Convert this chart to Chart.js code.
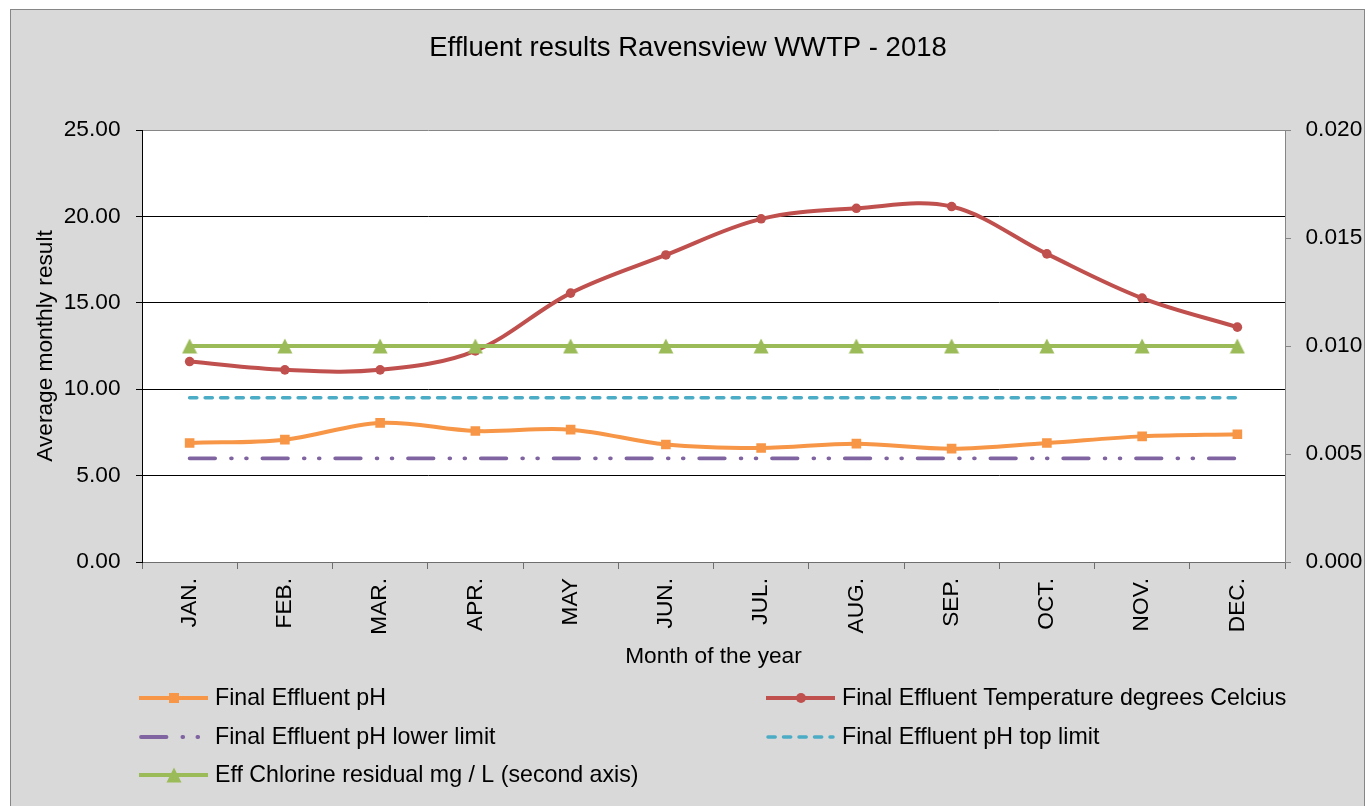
<!DOCTYPE html>
<html><head><meta charset="utf-8">
<script src="https://cdn.jsdelivr.net/npm/chart.js@4/dist/chart.umd.min.js"></script>
<style>html,body{margin:0;padding:0;background:#fff;overflow:hidden}#wrap{width:1368px;height:806px}</style>
</head><body><div id="wrap"><canvas id="c" width="1368" height="806"></canvas></div>
<script>
// ---- data ----
const months = ['JAN.', 'FEB.', 'MAR.', 'APR.', 'MAY', 'JUN.', 'JUL.', 'AUG.', 'SEP.', 'OCT.', 'NOV.', 'DEC.'];
const phValues = [6.89, 7.08, 8.05, 7.58, 7.66, 6.80, 6.60, 6.85, 6.56, 6.89, 7.27, 7.39];
const temperatureValues = [11.60, 11.12, 11.12, 12.22, 15.56, 17.77, 19.86, 20.47, 20.57, 17.83, 15.27, 13.59];
const phLowerLimit = [6, 6, 6, 6, 6, 6, 6, 6, 6, 6, 6, 6];
const phTopLimit = [9.5, 9.5, 9.5, 9.5, 9.5, 9.5, 9.5, 9.5, 9.5, 9.5, 9.5, 9.5];
const chlorineResidual = [0.01, 0.01, 0.01, 0.01, 0.01, 0.01, 0.01, 0.01, 0.01, 0.01, 0.01, 0.01];
const leftAxisTicks = [0, 5, 10, 15, 20, 25];
const rightAxisTicks = [0, 0.005, 0.010, 0.015, 0.020];

const FONT = "'Liberation Sans', Arial, sans-serif";
const TXT = 22.7;
const LEG = 23.2;

function triangleMarker(color) {
  const c = document.createElement('canvas');
  c.width = 16; c.height = 16;
  const g = c.getContext('2d');
  g.fillStyle = color;
  g.beginPath(); g.moveTo(8, 0.5); g.lineTo(15.5, 15.5); g.lineTo(0.5, 15.5); g.closePath(); g.fill();
  return c;
}
const triImg = triangleMarker('#9BBB59');

const legendSlots = [{x:139,y:698},{x:766,y:698},{x:139,y:737},{x:766,y:737},{x:139,y:775}];

const bgPlugin = {
  id: 'bg',
  beforeDraw(chart) {
    const ctx = chart.ctx, a = chart.chartArea;
    ctx.save();
    ctx.fillStyle = '#ffffff';
    ctx.fillRect(0, 0, chart.width, chart.height);
    ctx.fillStyle = '#D9D9D9';
    ctx.fillRect(10, 9, 1355, 800);
    ctx.strokeStyle = '#868686';
    ctx.lineWidth = 1;
    ctx.strokeRect(10.5, 9.5, 1354, 810);
    ctx.fillStyle = '#ffffff';
    ctx.fillRect(a.left, a.top, a.right - a.left, a.bottom - a.top);
    ctx.restore();
  },
  afterDraw(chart) {
    const ctx = chart.ctx;
    ctx.save();
    chart.data.datasets.forEach((ds, i) => {
      const s = legendSlots[i];
      ctx.strokeStyle = ds.borderColor;
      ctx.lineWidth = ds.borderWidth;
      if (ds.borderDash) {
        ctx.setLineDash(ds.borderDash);
        ctx.lineCap = 'round';
        ctx.beginPath(); ctx.moveTo(s.x + 2, s.y); ctx.lineTo(s.x + 67, s.y); ctx.stroke();
      } else {
        ctx.setLineDash([]);
        ctx.lineCap = 'butt';
        ctx.beginPath(); ctx.moveTo(s.x, s.y); ctx.lineTo(s.x + 69, s.y); ctx.stroke();
      }
      ctx.setLineDash([]);
      const mx = s.x + 35;
      ctx.fillStyle = ds.borderColor;
      if (ds.pointStyle === 'rect') {
        ctx.fillRect(mx - 5, s.y - 5, 10, 10);
      } else if (ds.pointStyle === 'circle') {
        ctx.beginPath(); ctx.arc(mx, s.y, 5, 0, Math.PI * 2); ctx.fill();
      } else if (ds.pointStyle === triImg) {
        ctx.drawImage(triImg, mx - 8, s.y - 8);
      }
      ctx.fillStyle = '#000';
      ctx.font = LEG + 'px ' + FONT;
      ctx.textBaseline = 'middle';
      ctx.textAlign = 'left';
      ctx.fillText(ds.label, s.x + 76, s.y + 1);
    });
    ctx.restore();
  }
};

new Chart(document.getElementById('c'), {
  type: 'line',
  data: {
    labels: months,
    datasets: [
      { label: 'Final Effluent pH', data: phValues, yAxisID: 'y', borderColor: '#F79646', backgroundColor: '#F79646',
        borderWidth: 4, tension: 0.35, pointStyle: 'rect', pointRadius: 6.8, pointBorderWidth: 0, order: 1 },
      { label: 'Final Effluent Temperature degrees Celcius', data: temperatureValues, yAxisID: 'y', borderColor: '#C0504D', backgroundColor: '#C0504D',
        borderWidth: 4, tension: 0.35, pointStyle: 'circle', pointRadius: 4.8, pointBorderWidth: 0, order: 2 },
      { label: 'Final Effluent pH lower limit', data: phLowerLimit, yAxisID: 'y', borderColor: '#8064A2', backgroundColor: '#8064A2',
        borderWidth: 3.8, borderDash: [25.5, 15.9, 0.8, 14.2, 0.8, 15.6], borderCapStyle: 'round', pointRadius: 0, order: 3 },
      { label: 'Final Effluent pH top limit', data: phTopLimit, yAxisID: 'y', borderColor: '#4BACC6', backgroundColor: '#4BACC6',
        borderWidth: 3.5, borderDash: [7.2, 8.3], borderCapStyle: 'round', pointRadius: 0, order: 4 },
      { label: 'Eff Chlorine residual mg / L (second axis)', data: chlorineResidual, yAxisID: 'y1', borderColor: '#9BBB59', backgroundColor: '#9BBB59',
        borderWidth: 4, pointStyle: triImg, pointRadius: 8, order: 0 }
    ]
  },
  options: {
    responsive: false,
    animation: false,
    devicePixelRatio: 1,
    layout: { padding: { left: 8, right: 0, top: 0, bottom: 134 } },
    plugins: {
      legend: { display: false },
      tooltip: { enabled: false },
      title: {
        display: true,
        text: 'Effluent results Ravensview WWTP - 2018',
        color: '#000',
        font: { family: FONT, size: 27.5, weight: 'normal', lineHeight: 1.2 },
        padding: { top: 32, bottom: 65 }
      }
    },
    scales: {
      x: {
        type: 'category',
        offset: true,
        afterFit(s) { s.height = 110; },
        grid: { display: true, drawOnChartArea: false, offset: true, tickLength: 7, color: '#6e6e6e', tickColor: '#6e6e6e' },
        border: { display: true, color: '#6e6e6e', width: 1 },
        ticks: { autoSkip: false, maxRotation: 90, minRotation: 90, padding: 9, color: '#000',
          font: { family: FONT, size: TXT } },
        title: { display: true, text: 'Month of the year', color: '#000',
          font: { family: FONT, size: TXT, lineHeight: 1.2 }, padding: { top: 0, bottom: 1.5 } }
      },
      y: {
        position: 'left',
        min: 0, max: 25,
        afterFit(s) { s.width = 134; },
        afterBuildTicks(s) { s.ticks = leftAxisTicks.map(v => ({ value: v })); },
        grid: {
          color: (c) => (c.tick && (c.tick.value === 25 || c.tick.value === 0)) ? '#868686' : '#000000',
          tickColor: '#000', tickLength: 6, lineWidth: 1
        },
        border: { display: true, color: '#000', width: 1 },
        ticks: { padding: 15.5, color: '#000', font: { family: FONT, size: TXT },
          callback: (v) => Number(v).toFixed(2) },
        title: { display: true, text: 'Average monthly result', color: '#000',
          font: { family: FONT, size: TXT, lineHeight: 1.2 }, padding: { top: 24, bottom: 0 } }
      },
      y1: {
        position: 'right',
        min: 0, max: 0.02,
        afterFit(s) { s.width = 83; },
        afterBuildTicks(s) { s.ticks = rightAxisTicks.map(v => ({ value: v })); },
        grid: { drawOnChartArea: false, tickColor: '#868686', tickLength: 6 },
        border: { display: true, color: '#868686', width: 1 },
        ticks: { padding: 14.5, color: '#000', font: { family: FONT, size: TXT },
          callback: (v) => Number(v).toFixed(3) }
      }
    }
  },
  plugins: [bgPlugin]
});
</script>
</body></html>
